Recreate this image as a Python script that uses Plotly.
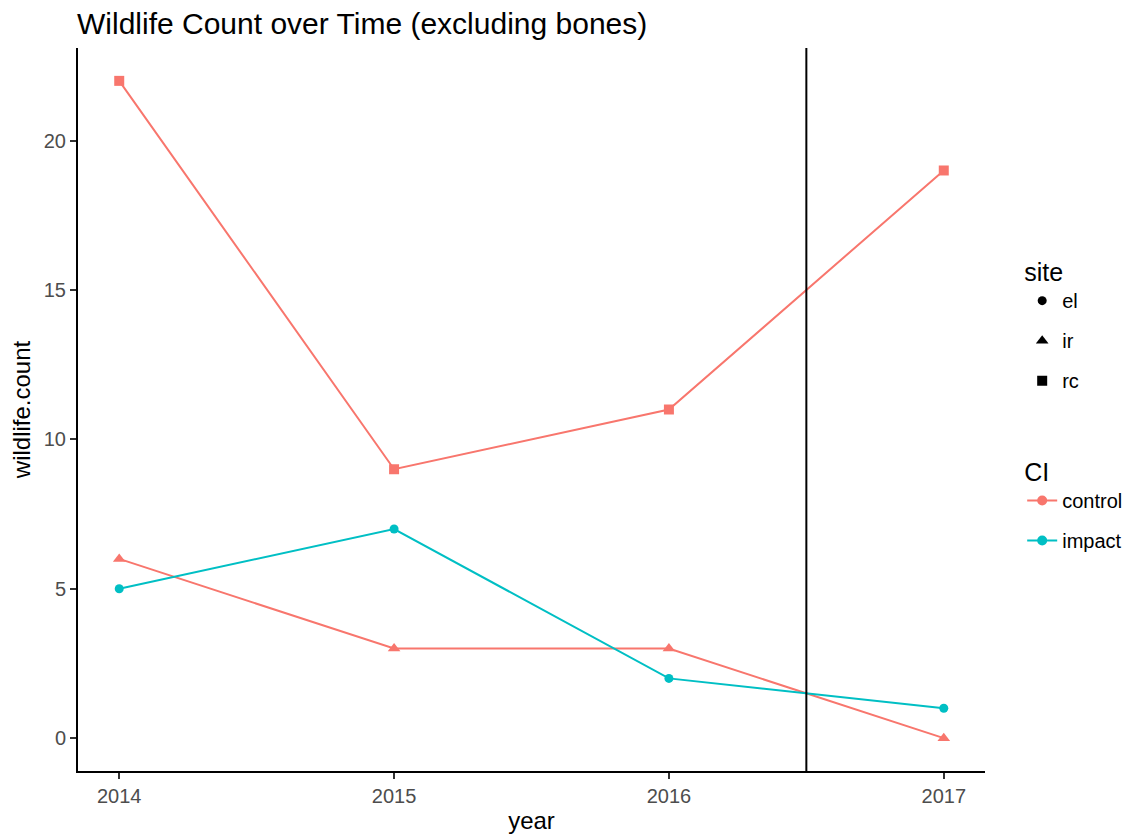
import plotly.graph_objects as go

years = [2014, 2015, 2016, 2017]
rc_control = [22, 9, 11, 19]
ir_control = [6, 3, 3, 0]
el_impact = [5, 7, 2, 1]
intervention_x = 2016.5

sites = ["el", "ir", "rc"]
ci_levels = ["control", "impact"]
x_ticks = [2014, 2015, 2016, 2017]
y_ticks = [0, 5, 10, 15, 20]

RED = "#F8766D"
CYAN = "#00BFC4"
FONT = "Liberation Sans, Arial, sans-serif"

# page body has an 8px margin; figure offset accordingly
W, H = 1125, 826

fig = go.Figure()

series = [
    (rc_control, RED, "square", 10),
    (ir_control, RED, "triangle-up", 11),
    (el_impact, CYAN, "circle", 9),
]
for vals, col, sym, sz in series:
    fig.add_trace(go.Scatter(
        x=years, y=vals, mode="lines+markers",
        line=dict(color=col, width=2),
        marker=dict(color=col, symbol=sym, size=sz),
        showlegend=False, hoverinfo="x+y"))

# legend: site (shapes)
for s, sym, sz in zip(sites, ["circle", "triangle-up", "square"], [9, 11, 10]):
    fig.add_trace(go.Scatter(
        x=[None], y=[None], mode="markers", name=s,
        marker=dict(color="black", symbol=sym, size=sz),
        legend="legend", legendgroup="s_" + s))
# legend: CI (colours)
for c, col in zip(ci_levels, [RED, CYAN]):
    fig.add_trace(go.Scatter(
        x=[None], y=[None], mode="lines+markers", name=c,
        line=dict(color=col, width=2),
        marker=dict(color=col, symbol="circle", size=10),
        legend="legend2", legendgroup="c_" + c))

fig.add_shape(type="line", xref="x", yref="paper",
              x0=intervention_x, x1=intervention_x, y0=0, y1=1,
              line=dict(color="black", width=2))

axis_common = dict(
    showgrid=False, zeroline=False, showline=True, linecolor="black",
    linewidth=2, ticks="outside", ticklen=6, tickwidth=2, tickcolor="#333333",
    tickfont=dict(family=FONT, size=20, color="#4D4D4D"), automargin=False,
)

fig.update_layout(
    width=W, height=H,
    paper_bgcolor="white", plot_bgcolor="white",
    margin=dict(l=70, r=148, t=40, b=63, autoexpand=False),
    title=dict(text="Wildlife Count over Time (excluding bones)",
               font=dict(family=FONT, size=30, color="black"),
               x=69 / W, xanchor="left", y=1 - 15.5 / H, yanchor="middle"),
    xaxis=dict(**axis_common, range=[2013.85, 2017.15],
               tickvals=x_ticks, ticktext=[str(t) for t in x_ticks],
               title=dict(text="year", font=dict(family=FONT, size=24, color="black"),
                          standoff=8)),
    yaxis=dict(**axis_common, range=[-1.1, 23.1], tickvals=y_ticks,
               title=dict(text="wildlife.count", font=dict(family=FONT, size=24, color="black"),
                          standoff=13)),
    legend=dict(title=dict(text="site", font=dict(family=FONT, size=25, color="black")),
                font=dict(family=FONT, size=20, color="black"),
                x=1.041, xanchor="left", y=0.7225, yanchor="top",
                tracegroupgap=11,
                bgcolor="rgba(0,0,0,0)", itemwidth=30),
    legend2=dict(title=dict(text="CI", font=dict(family=FONT, size=25, color="black")),
                 font=dict(family=FONT, size=20, color="black"),
                 x=1.041, xanchor="left", y=0.446, yanchor="top",
                 tracegroupgap=11,
                 bgcolor="rgba(0,0,0,0)", itemwidth=30),
)

fig.write_html("out.html")
